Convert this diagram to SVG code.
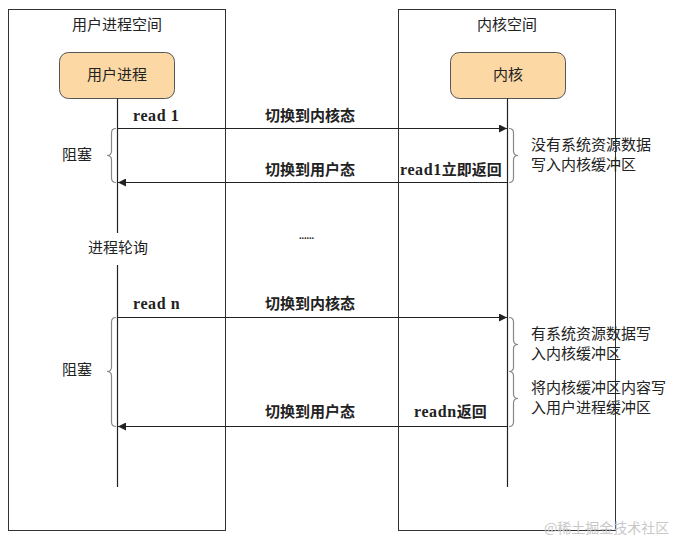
<svg xmlns="http://www.w3.org/2000/svg" width="676" height="541" viewBox="0 0 676 541">
<defs>
<style>
.box{fill:#fff;stroke:#333;stroke-width:1}
.node{fill:#fcd8a5;stroke:#555;stroke-width:1}
.life{stroke:#222;stroke-width:1.2;fill:none}
.conn{stroke:#222;stroke-width:1;fill:none}
.brace{stroke:#888;stroke-width:1.2;fill:none}
.t{font-family:"Noto Sans CJK SC","Noto Sans",sans-serif;font-size:15px;fill:#222}
.b{font-family:"Liberation Serif","Noto Sans CJK SC",serif;font-size:16px;font-weight:bold;fill:#222;letter-spacing:0.6px}
.bc{font-family:"Noto Sans CJK SC",sans-serif;font-size:15px;font-weight:bold;fill:#222;letter-spacing:0}
.wm{font-family:"Noto Sans CJK SC",sans-serif;font-size:14px;fill:#c8c8c8}
</style>
<marker id="ah" viewBox="0 0 10 10" refX="10" refY="5" markerWidth="9" markerHeight="8" markerUnits="userSpaceOnUse" orient="auto">
<path d="M0,0 L10,5 L0,10 z" fill="#222"/>
</marker>
</defs>
<rect width="676" height="541" fill="#fff"/>
<g id="user-space">
<rect class="box" x="8.5" y="9.5" width="217" height="521"/>
<text class="t" x="117" y="30" text-anchor="middle">用户进程空间</text>
</g>
<g id="kernel-space">
<rect class="box" x="398.5" y="9.5" width="217" height="521"/>
<text class="t" x="507" y="30" text-anchor="middle">内核空间</text>
</g>
<g id="user-process">
<rect class="node" x="59.5" y="52.5" width="115" height="46" rx="9"/>
<text class="t" x="117" y="80" text-anchor="middle">用户进程</text>
</g>
<g id="kernel">
<rect class="node" x="450.5" y="52.5" width="115" height="46" rx="9"/>
<text class="t" x="508" y="80" text-anchor="middle">内核</text>
</g>
<g id="connectors">
<line class="life" x1="117.5" y1="98.5" x2="117.5" y2="233"/>
<line class="life" x1="117.5" y1="265" x2="117.5" y2="487"/>
<line class="life" x1="507.5" y1="98.5" x2="507.5" y2="487"/>
<line class="conn" x1="117.5" y1="128.5" x2="507" y2="128.5" marker-end="url(#ah)"/>
<line class="conn" x1="507.5" y1="182.5" x2="118" y2="182.5" marker-end="url(#ah)"/>
<line class="conn" x1="117.5" y1="317.5" x2="507" y2="317.5" marker-end="url(#ah)"/>
<line class="conn" x1="507.5" y1="426.5" x2="118" y2="426.5" marker-end="url(#ah)"/>
<path class="brace" d="M116,128.5 Q111.5,128.5 111.5,133 L111.5,151 Q111.5,155.5 107,155.5 Q111.5,155.5 111.5,160 L111.5,178 Q111.5,182.5 116,182.5"/>
<path class="brace" d="M116,317.5 Q111.5,317.5 111.5,322 L111.5,367 Q111.5,371.5 107,371.5 Q111.5,371.5 111.5,376 L111.5,422 Q111.5,426.5 116,426.5"/>
<path class="brace" d="M509,128.5 Q513.5,128.5 513.5,133 L513.5,151 Q513.5,155.5 518,155.5 Q513.5,155.5 513.5,160 L513.5,178 Q513.5,182.5 509,182.5"/>
<path class="brace" d="M509,317.5 Q513.5,317.5 513.5,322 L513.5,340 Q513.5,344.5 518,344.5 Q513.5,344.5 513.5,349 L513.5,367 Q513.5,371.5 509,371.5"/>
<path class="brace" d="M509,371.5 Q513.5,371.5 513.5,376 L513.5,394 Q513.5,398.5 518,398.5 Q513.5,398.5 513.5,403 L513.5,422 Q513.5,426.5 509,426.5"/>
</g>
<g id="labels">
<text class="b" x="133" y="121">read 1</text>
<text class="bc" x="265" y="121">切换到内核态</text>
<text class="t" x="62" y="160">阻塞</text>
<text class="bc" x="265" y="175">切换到用户态</text>
<text class="b" x="400" y="175">read1<tspan class="bc">立即返回</tspan></text>
<text class="t" x="531" y="150">没有系统资源数据</text>
<text class="t" x="531" y="170">写入内核缓冲区</text>
<text class="b" x="299" y="239" style="font-size:10px;letter-spacing:0">......</text>
<text class="t" x="88" y="253">进程轮询</text>
<text class="b" x="133" y="309">read n</text>
<text class="bc" x="265" y="309">切换到内核态</text>
<text class="t" x="62" y="375">阻塞</text>
<text class="t" x="531" y="339">有系统资源数据写</text>
<text class="t" x="531" y="359">入内核缓冲区</text>
<text class="t" x="531" y="393">将内核缓冲区内容写</text>
<text class="t" x="531" y="413">入用户进程缓冲区</text>
<text class="bc" x="265" y="417">切换到用户态</text>
<text class="b" x="414" y="417">readn<tspan class="bc">返回</tspan></text>
<text class="wm" x="544" y="533">@稀土掘金技术社区</text>
</g>
</svg>
